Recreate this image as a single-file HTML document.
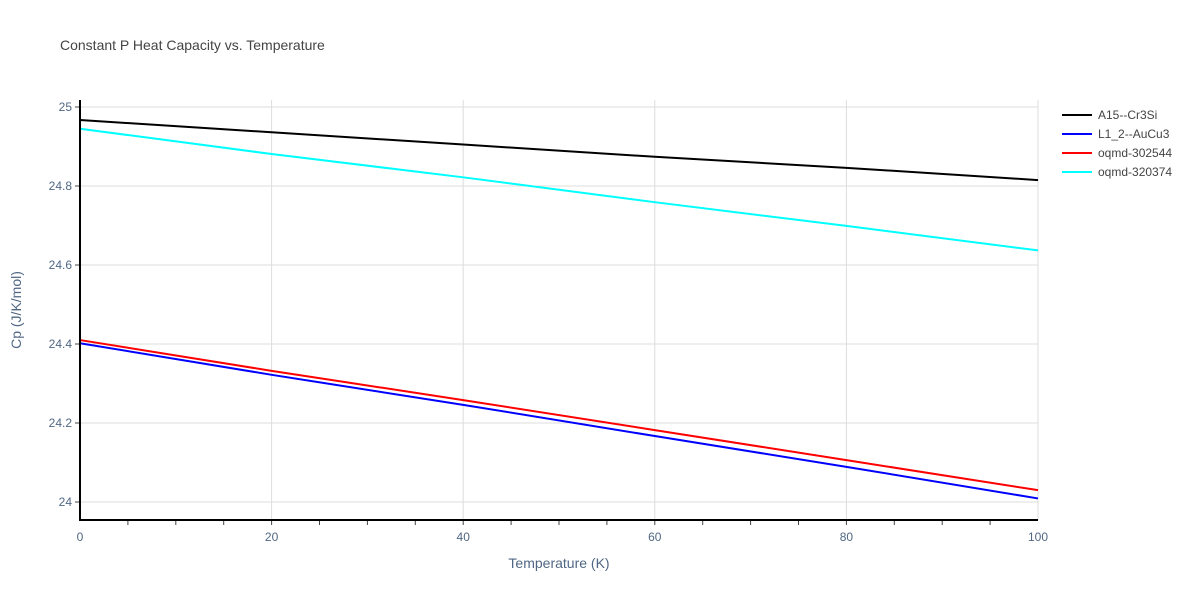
<!DOCTYPE html>
<html><head><meta charset="utf-8">
<style>
body{margin:0;background:#fff;font-family:"Liberation Sans",sans-serif;}
svg text{font-family:"Liberation Sans",sans-serif;}
</style></head>
<body>
<svg id="chart" width="1200" height="600" xmlns="http://www.w3.org/2000/svg">
<rect width="1200" height="600" fill="#fff"/>
<text x="60" y="50" font-size="14" fill="#444">Constant P Heat Capacity vs. Temperature</text>
<g id="grid"></g>
<g id="series"></g>
<g id="axes"></g>
<g id="legend"></g>
<text x="559" y="568" font-size="14" fill="#506784" text-anchor="middle">Temperature (K)</text>
<text transform="translate(21,310) rotate(-90)" font-size="14" fill="#506784" text-anchor="middle">Cp (J/K/mol)</text>
</svg>
<script>
const temps=[0,20,40,60,80,100];
const seriesNames=["A15--Cr3Si","L1_2--AuCu3","oqmd-302544","oqmd-320374"];
const seriesColors=["#000000","#0000ff","#ff0000","#00ffff"];
const cr3si=[24.967,24.936,24.905,24.874,24.846,24.815];
const aucu3=[24.402,24.322,24.246,24.167,24.089,24.009];
const oqmd302544=[24.410,24.332,24.258,24.182,24.106,24.030];
const oqmd320374=[24.945,24.881,24.822,24.759,24.699,24.637];
const xTicks=[0,20,40,60,80,100];
const yTicks=[24,24.2,24.4,24.6,24.8,25];
const yTickLabels=["24","24.2","24.4","24.6","24.8","25"];
const allSeries=[cr3si,aucu3,oqmd302544,oqmd320374];
const NS="http://www.w3.org/2000/svg";
const L=80,R=1038,T=100,B=520;
function xs(v){return L+(v-0)/(100-0)*(R-L);}
function ys(v){return 502-(v-24)*395;}
function mk(tag,attrs,parent){const e=document.createElementNS(NS,tag);for(const k in attrs)e.setAttribute(k,attrs[k]);document.getElementById(parent).appendChild(e);return e;}
xTicks.forEach(t=>{
 const g=mk('line',{x1:xs(t),x2:xs(t),y1:T,y2:B,stroke:'#ddd','stroke-width':1},'grid');
 
 
 const tx=mk('text',{x:xs(t),y:541,'font-size':12,fill:'#506784','text-anchor':'middle'},'axes');
 tx.textContent=t;
 
 
});
for(let t=5;t<100;t+=5){
 const m=mk('line',{x1:xs(t),x2:xs(t),y1:B,y2:B+5,stroke:'#444','stroke-width':1},'axes');
 
 
}
yTicks.forEach((t,i)=>{
 const g=mk('line',{x1:L,x2:R,y1:ys(t),y2:ys(t),stroke:'#ddd','stroke-width':1},'grid');
 
 
 const tk=mk('line',{x1:L-5,x2:L,y1:ys(t),y2:ys(t),stroke:'#444','stroke-width':1},'axes');
 
 
 const tx=mk('text',{x:L-8,y:ys(t)+4,'font-size':12,fill:'#506784','text-anchor':'end'},'axes');
 tx.textContent=yTickLabels[i];
 
 
});
const xa=mk('line',{x1:L-1,x2:R,y1:B,y2:B,stroke:'#000','stroke-width':2},'axes');


const ya=mk('line',{x1:L,x2:L,y1:T,y2:B,stroke:'#000','stroke-width':2},'axes');


allSeries.forEach((s,i)=>{
 const pts=s.map((v,j)=>xs(temps[j])+','+ys(v)).join(' ');
 const p=mk('polyline',{points:pts,fill:'none',stroke:seriesColors[i],'stroke-width':2},'series');
 
 
 const y=115+i*19;
 const ll=mk('line',{x1:1062,x2:1092,y1:y,y2:y,stroke:seriesColors[i],'stroke-width':2},'legend');
 
 
 const lt=mk('text',{x:1098,y:y+4,'font-size':12,fill:'#444'},'legend');
 lt.textContent=seriesNames[i];
 
 
});
</script>
</body></html>
